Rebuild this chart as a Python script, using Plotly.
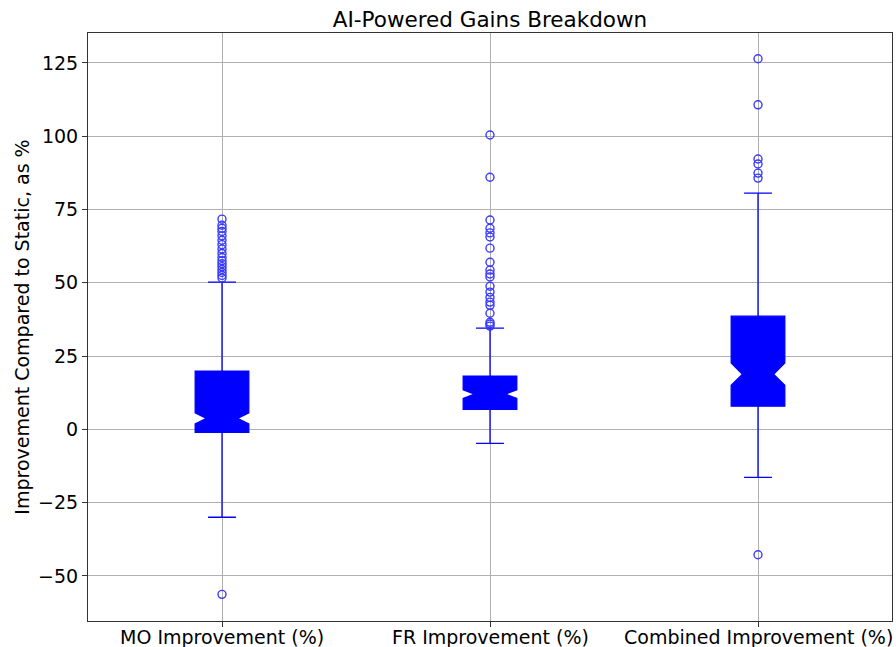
import plotly.graph_objects as go

categories = ["MO Improvement (%)", "FR Improvement (%)", "Combined Improvement (%)"]
q1 = [-1.0, 6.8, 7.9]
median = [3.7, 12.0, 18.8]
q3 = [19.8, 18.1, 38.6]
lower_whisker = [-30.0, -4.8, -16.4]
upper_whisker = [50.2, 34.5, 80.6]
notch_span = [1.9, 1.5, 3.8]

mo_outliers = [71.7, 69.6, 68.6, 67.5, 66.0, 64.5, 63.0, 61.5, 60.0, 58.6, 57.5,
               56.5, 55.5, 54.5, 53.5, 52.5, 51.6, -56.3]
fr_outliers = [100.4, 86.0, 71.4, 68.6, 67.0, 65.6, 61.8, 57.0, 54.3, 53.0, 52.0,
               48.8, 46.8, 45.0, 43.4, 42.3, 39.6, 36.5, 35.9, 35.2]
comb_outliers = [126.4, 110.7, 92.2, 90.5, 87.4, 85.7, -42.8]
outliers = [mo_outliers, fr_outliers, comb_outliers]

y_ticks = [-50, -25, 0, 25, 50, 75, 100, 125]

BLUE = "#0000ff"
FONT = "DejaVu Sans"

fig = go.Figure()
fig.add_trace(go.Box(
    x=categories,
    q1=q1, median=median, q3=q3,
    lowerfence=lower_whisker, upperfence=upper_whisker,
    notchspan=notch_span,
    notched=True, notchwidth=0.21,
    boxpoints=False,
    width=0.2,
    whiskerwidth=0.52,
    fillcolor=BLUE,
    line=dict(color=BLUE, width=1.3),
    showlegend=False,
    hoverinfo="skip",
))

for cat, vals in zip(categories, outliers):
    fig.add_trace(go.Scatter(
        x=[cat] * len(vals), y=vals, mode="markers",
        marker=dict(symbol="circle-open", size=8, color="#3a3aff",
                    line=dict(width=1.4, color="#3a3aff")),
        showlegend=False, hoverinfo="skip",
    ))

# category labels under the axis (text annotations so they sit tight to the ticks)
for cat in categories:
    fig.add_annotation(
        x=cat, xref="x", y=0, yref="paper", yanchor="top", xanchor="center",
        yshift=-3, text=cat, showarrow=False,
        font=dict(family=FONT, size=19, color="#000000"),
    )

fig.update_layout(
    width=896, height=647,
    margin=dict(l=88, r=4, t=33, b=26, autoexpand=False),
    paper_bgcolor="white", plot_bgcolor="white",
    font=dict(family=FONT, size=19, color="#000000"),
    title=dict(text="AI-Powered Gains Breakdown", x=0.5, xref="paper", xanchor="center",
               y=1, yref="paper", yanchor="bottom", pad=dict(b=6), automargin=False,
               font=dict(family=FONT, size=21.5, color="#000000")),
)

fig.update_xaxes(
    type="category", range=[-0.5, 2.5], automargin=False,
    showticklabels=False,
    showgrid=True, gridcolor="#b0b0b0", gridwidth=1,
    showline=True, linecolor="#333333", linewidth=1, mirror=True,
    ticks="outside", ticklen=5, tickcolor="#333333",
    zeroline=False,
)
fig.update_yaxes(
    range=[-65.4, 135.2], automargin=False,
    tickvals=y_ticks, ticktext=[str(v).replace("-", "\u2212") for v in y_ticks],
    showgrid=True, gridcolor="#b0b0b0", gridwidth=1,
    showline=True, linecolor="#333333", linewidth=1, mirror=True,
    ticks="outside", ticklen=5, tickcolor="#333333",
    tickfont=dict(family=FONT, size=19, color="#000000"),
    title=dict(text="Improvement Compared to Static, as %", standoff=3,
               font=dict(family=FONT, size=19, color="#000000")),
    zeroline=False,
)

# remove the page's default body margin so the 896x647 figure fills the window exactly
fig.write_html(
    "out.html",
    config={"displayModeBar": False},
    post_script=("document.body.style.margin='0px';"
                 "document.body.style.overflow='hidden';"
                 "document.documentElement.style.overflow='hidden';"),
)
